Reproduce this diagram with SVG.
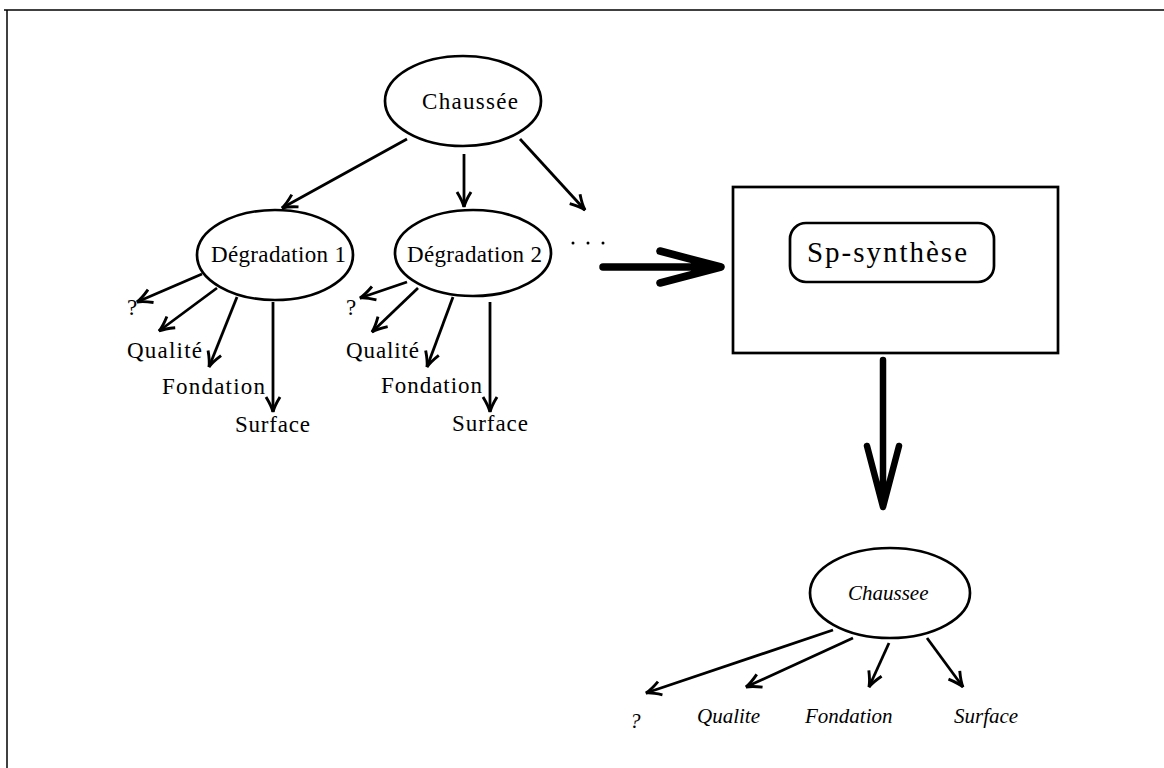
<svg xmlns="http://www.w3.org/2000/svg" width="1164" height="768" viewBox="0 0 1164 768">
<style>
.n{fill:none;stroke:#000;stroke-width:2.7}
.c{fill:none;stroke:#000;stroke-width:2.8}
.t{font-family:"Liberation Serif",serif;font-size:23px;fill:#000}
.i{font-family:"Liberation Serif",serif;font-size:21px;font-style:italic;fill:#000}
.k{fill:none;stroke:#000;stroke-width:7.5;stroke-linecap:round;stroke-linejoin:round}
</style>
<defs>
<marker id="ah" viewBox="-16 -9 18 18" refX="0" refY="0" markerWidth="18" markerHeight="18" markerUnits="userSpaceOnUse" orient="auto">
<path d="M-15,-7 Q-6,-1.5 0,0 Q-6,1.5 -15,7" fill="none" stroke="#000" stroke-width="2.9"/>
</marker>
</defs>
<rect width="1164" height="768" fill="#fff"/>
<g id="frame">
<line x1="4" y1="10" x2="1164" y2="10" stroke="#000" stroke-width="1.5"/>
<line x1="7" y1="10" x2="7" y2="768" stroke="#000" stroke-width="1.5"/>
</g>
<g id="chaussee">
<ellipse class="n" cx="463" cy="101" rx="78" ry="45"/>
<text class="t" x="422" y="109" textLength="96">Chaussée</text>
</g>
<g id="degradation1">
<ellipse class="n" cx="275" cy="255" rx="78" ry="45"/>
<text class="t" x="211" y="262" textLength="135">Dégradation 1</text>
</g>
<g id="degradation2">
<ellipse class="n" cx="473" cy="253" rx="78" ry="43"/>
<text class="t" x="407" y="262" textLength="135">Dégradation 2</text>
</g>
<g id="dots">
<circle cx="573" cy="243" r="1.5"/>
<circle cx="588" cy="243" r="1.5"/>
<circle cx="603" cy="243" r="1.5"/>
</g>
<g id="labels1">
<text class="t" x="127" y="315">?</text>
<text class="t" x="127" y="358" textLength="75">Qualité</text>
<text class="t" x="162" y="394" textLength="103">Fondation</text>
<text class="t" x="235" y="432" textLength="75">Surface</text>
</g>
<g id="labels2">
<text class="t" x="346" y="315">?</text>
<text class="t" x="346" y="358" textLength="73">Qualité</text>
<text class="t" x="381" y="393" textLength="101">Fondation</text>
<text class="t" x="452" y="431" textLength="76">Surface</text>
</g>
<g id="spsynthese">
<rect class="n" x="733" y="187" width="325" height="166"/>
<rect class="n" x="790" y="223" width="204" height="59" rx="16" ry="16"/>
<text class="t" x="807" y="262" style="font-size:29px" textLength="160">Sp-synthèse</text>
</g>
<g id="chaussee-result">
<ellipse class="n" cx="890" cy="593" rx="80" ry="45"/>
<text class="i" x="848" y="600">Chaussee</text>
</g>
<g id="labels3">
<text class="i" x="630" y="728">?</text>
<text class="i" x="697" y="723">Qualite</text>
<text class="i" x="805" y="723">Fondation</text>
<text class="i" x="954" y="723">Surface</text>
</g>
<g id="connectors">
<line class="c" x1="407" y1="139" x2="282" y2="208" marker-end="url(#ah)"/>
<line class="c" x1="464" y1="154" x2="464" y2="207" marker-end="url(#ah)"/>
<line class="c" x1="520" y1="139" x2="585" y2="210" marker-end="url(#ah)"/>
<line class="c" x1="202" y1="274" x2="137" y2="302" marker-end="url(#ah)"/>
<line class="c" x1="217" y1="288" x2="159" y2="331" marker-end="url(#ah)"/>
<line class="c" x1="237" y1="297" x2="209" y2="367" marker-end="url(#ah)"/>
<line class="c" x1="273" y1="302" x2="273" y2="412" marker-end="url(#ah)"/>
<line class="c" x1="407" y1="282" x2="360" y2="298" marker-end="url(#ah)"/>
<line class="c" x1="418" y1="288" x2="372" y2="332" marker-end="url(#ah)"/>
<line class="c" x1="453" y1="297" x2="427" y2="367" marker-end="url(#ah)"/>
<line class="c" x1="490" y1="302" x2="490" y2="412" marker-end="url(#ah)"/>
<line class="c" x1="833" y1="630" x2="646" y2="693" marker-end="url(#ah)"/>
<line class="c" x1="853" y1="638" x2="746" y2="687" marker-end="url(#ah)"/>
<line class="c" x1="889" y1="643" x2="869" y2="687" marker-end="url(#ah)"/>
<line class="c" x1="927" y1="638" x2="963" y2="687" marker-end="url(#ah)"/>
<path class="k" d="M603,267 L720,267 M660,251 L721,267 L660,283"/>
<path class="k" d="M883,360 L883,505 M867,446 L883,507 L899,446" style="stroke-width:6.5"/>
</g>
</svg>
